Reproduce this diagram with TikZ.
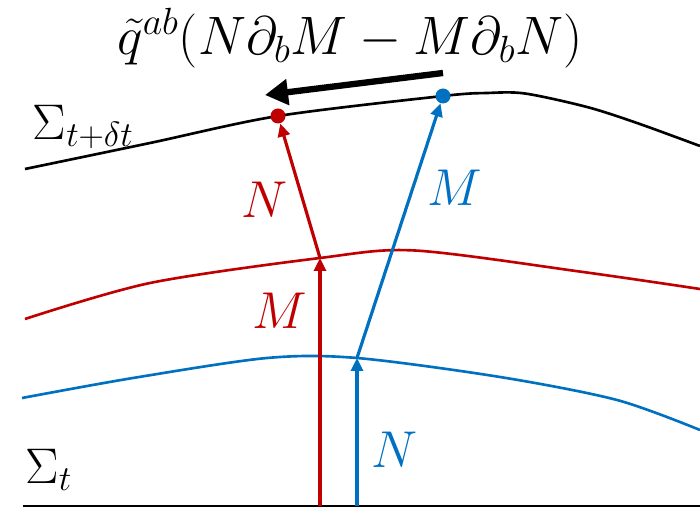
\RequirePackage{fix-cm}
\documentclass[tikz,border=0pt]{standalone}
\usetikzlibrary{arrows.meta,positioning}
\definecolor{redM}{RGB}{192,0,0}
\definecolor{blueN}{RGB}{0,112,192}
\tikzset{
  slice/.style={line width=1.5pt},
  flow/.style={-{Triangle[length=2.6mm,width=2.4mm]}, line width=1.8pt},
  bigarr/.style={-{Triangle[length=4.6mm,width=5mm]}, line width=3.6pt},
  dot/.style={circle, fill, inner sep=0pt, minimum size=0.3cm},
  lbl/.style={font=\fontsize{29.5}{34}\selectfont, inner sep=0pt},
  sig/.style={font=\fontsize{28.5}{33}\selectfont, inner sep=0pt, anchor=west},
}
\begin{document}
\begin{tikzpicture}
  \useasboundingbox (0,0) rectangle (14,10.16);

  % points on the slices
  \coordinate (rtip)  at (5.56,7.84);
  \coordinate (btip)  at (8.86,8.24);
  \coordinate (rmid)  at (6.4,5.0);
  \coordinate (bmid)  at (7.14,3.0);
  \coordinate (rfoot) at (6.4,0.04);
  \coordinate (bfoot) at (7.14,0.04);
  \coordinate (qstart) at (8.86,8.7);
  \coordinate (qend)   at (5.3,8.26);

  % slices
  \draw[slice] (0.45,0.04) -- (14,0.04);
  \draw[slice, blueN] plot[smooth] coordinates
    {(0.44,2.2) (2.66,2.6) (5.34,3.0) (bmid) (10,2.62) (12.34,2.16) (14,1.56)};
  \draw[slice, redM] plot[smooth] coordinates
    {(0.5,3.78) (3,4.5) (rmid) (8.3,5.15) (11.66,4.72) (14,4.38)};
  \draw[slice] plot[smooth] coordinates
    {(0.5,6.78) (3,7.3) (rtip) (btip) (9.74,8.3) (10.5,8.29) (11.74,8.02) (12.74,7.7) (14,7.24)};

  \node[dot, redM]  (rdot) at (rtip) {};
  \node[dot, blueN] (bdot) at (btip) {};

  % evolution arrows
  \draw[flow, redM]  (rfoot) -- (rmid);
  \draw[flow, redM]  (rmid) -- (rdot);
  \draw[flow, blueN] (bfoot) -- (bmid);
  \draw[flow, blueN] (bmid) -- (bdot);

  \draw[bigarr] (qstart) -- (qend);

  % labels
  \node[lbl, redM]  (nred)  at (5.3,6.16)  {$N$};
  \node[lbl, redM]  (mred)  at (5.6,3.94)  {$M$};
  \node[lbl, blueN] (mblue) at (9.1,6.4)   {$M$};
  \node[lbl, blueN] (nblue) at (7.9,1.16)  {$N$};
  \node[sig] (sigtop) at (0.65,7.62) {$\Sigma_{t+\delta t}$};
  \node[sig] (sigbot) at (0.5,0.76) {$\Sigma_t$};
  \node[lbl, font=\fontsize{30.8}{36}\selectfont] (bracket) at (7.0,9.4)
    {$\tilde{q}^{ab}(N\partial_b M-M\partial_b N)$};
\end{tikzpicture}
\end{document}
